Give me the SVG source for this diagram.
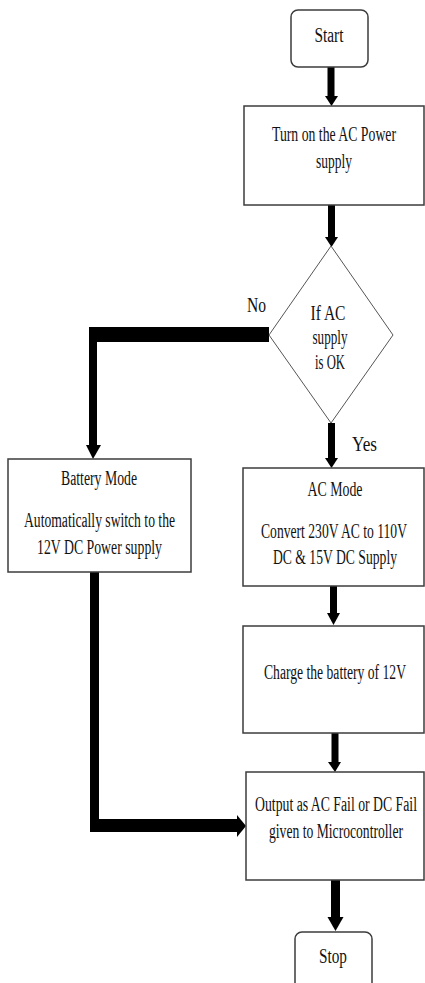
<svg xmlns="http://www.w3.org/2000/svg" width="425" height="983" viewBox="0 0 425 983">
<style>
.box{fill:#fff;stroke:#3c3c3c;stroke-width:1.5}
.dia{fill:#fff;stroke:#555;stroke-width:1}
.t{font-family:"Liberation Serif","Times New Roman",serif;font-size:20px;fill:#111;text-anchor:middle}
.lbl{font-family:"Liberation Serif","Times New Roman",serif;font-size:20px;fill:#111}
.c{fill:#000;stroke:none}
</style>
<rect x="0" y="0" width="425" height="983" fill="#fff"/>
<g id="connectors">
  <rect class="c" x="327.5" y="67" width="7" height="30"/>
  <polygon class="c" points="325,96 338,96 331.5,106"/>
  <rect class="c" x="328" y="205" width="7" height="34"/>
  <polygon class="c" points="325,237 338,237 331.5,247"/>
  <rect class="c" x="328" y="423" width="7" height="36"/>
  <polygon class="c" points="325,458 338,458 331.5,468"/>
  <rect class="c" x="89" y="327" width="180" height="15"/>
  <rect class="c" x="89" y="327" width="8" height="120"/>
  <polygon class="c" points="86,445 101,445 93,459"/>
  <rect class="c" x="90" y="572" width="9" height="260"/>
  <rect class="c" x="90" y="819" width="148" height="13"/>
  <polygon class="c" points="237,815 237,837 246,826"/>
  <rect class="c" x="330" y="586" width="7" height="28"/>
  <polygon class="c" points="327,613 340,613 333.5,625"/>
  <rect class="c" x="331.5" y="733" width="7" height="30"/>
  <polygon class="c" points="328,762 341,762 335,772"/>
  <rect class="c" x="331" y="880" width="9" height="38"/>
  <polygon class="c" points="327.5,917 343.5,917 335.5,931"/>
</g>
<g id="start">
  <rect class="box" x="291" y="10" width="77" height="57" rx="7"/>
  <text class="t" x="329" y="42" font-size="21" textLength="29" lengthAdjust="spacingAndGlyphs">Start</text>
</g>
<g id="turn-on">
  <rect class="box" x="244" y="106" width="180" height="99"/>
  <text class="t" x="334" y="141" textLength="124" lengthAdjust="spacingAndGlyphs">Turn on the AC Power</text>
  <text class="t" x="334" y="168" textLength="36" lengthAdjust="spacingAndGlyphs">supply</text>
</g>
<g id="decision">
  <polygon class="dia" points="331,246 393,335 331,423 269,335"/>
  <text class="t" x="328" y="320" textLength="35" lengthAdjust="spacingAndGlyphs">If AC</text>
  <text class="t" x="330" y="344" textLength="35" lengthAdjust="spacingAndGlyphs">supply</text>
  <text class="t" x="330" y="369" textLength="30" lengthAdjust="spacingAndGlyphs">is OK</text>
</g>
<g id="labels">
  <text class="lbl" x="247" y="312" textLength="19" lengthAdjust="spacingAndGlyphs">No</text>
  <text class="lbl" x="352" y="451" textLength="25" lengthAdjust="spacingAndGlyphs">Yes</text>
</g>
<g id="battery-mode">
  <rect class="box" x="8" y="459" width="183" height="113"/>
  <text class="t" x="99" y="485" textLength="76" lengthAdjust="spacingAndGlyphs">Battery Mode</text>
  <text class="t" x="99.5" y="527" textLength="151" lengthAdjust="spacingAndGlyphs">Automatically switch to the</text>
  <text class="t" x="99.5" y="554" textLength="125" lengthAdjust="spacingAndGlyphs">12V DC Power supply</text>
</g>
<g id="ac-mode">
  <rect class="box" x="243" y="468" width="181" height="118"/>
  <text class="t" x="335" y="496" textLength="55" lengthAdjust="spacingAndGlyphs">AC Mode</text>
  <text class="t" x="334" y="538" textLength="146" lengthAdjust="spacingAndGlyphs">Convert 230V AC to 110V</text>
  <text class="t" x="335" y="564" textLength="124" lengthAdjust="spacingAndGlyphs">DC &amp; 15V DC Supply</text>
</g>
<g id="charge">
  <rect class="box" x="243" y="626" width="181" height="107"/>
  <text class="t" x="335" y="679" textLength="142" lengthAdjust="spacingAndGlyphs">Charge the battery of 12V</text>
</g>
<g id="output">
  <rect class="box" x="246" y="772" width="178" height="108"/>
  <text class="t" x="336" y="811" textLength="162" lengthAdjust="spacingAndGlyphs">Output as AC Fail or DC Fail</text>
  <text class="t" x="336" y="838" textLength="134" lengthAdjust="spacingAndGlyphs">given to Microcontroller</text>
</g>
<g id="stop">
  <rect class="box" x="295" y="932" width="77" height="70" rx="7"/>
  <text class="t" x="333" y="963" font-size="21" textLength="28" lengthAdjust="spacingAndGlyphs">Stop</text>
</g>
</svg>
